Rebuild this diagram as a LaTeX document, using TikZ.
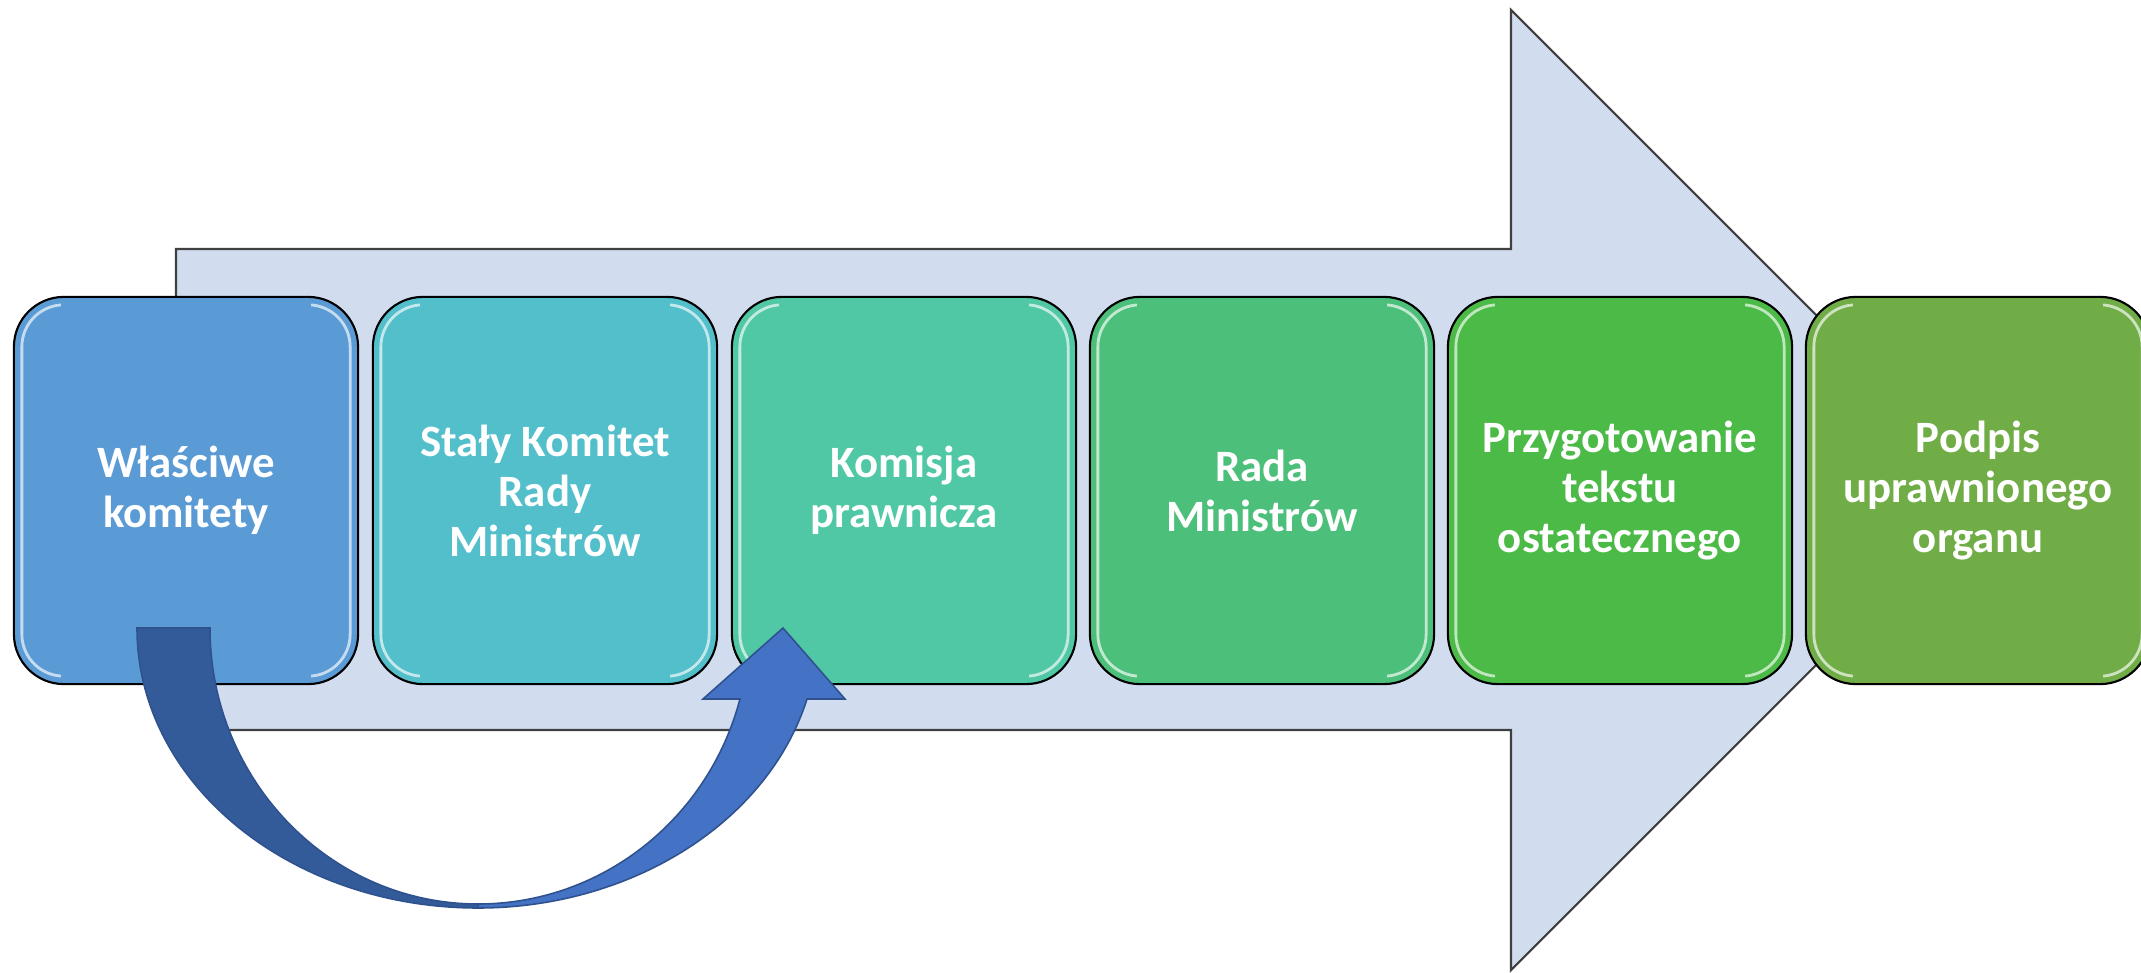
\documentclass[tikz,border=0pt]{standalone}
\usepackage{fontspec}
\setmainfont{Carlito}
\usetikzlibrary{calc}
\definecolor{c1}{HTML}{5B9BD5}
\definecolor{c2}{HTML}{52BFCB}
\definecolor{c3}{HTML}{50C8A5}
\definecolor{c4}{HTML}{4CC07A}
\definecolor{c5}{HTML}{4BBA46}
\definecolor{c6}{HTML}{70AD47}
\definecolor{bigfill}{HTML}{D1DDEF}
\definecolor{bigline}{HTML}{404040}
\definecolor{arrdark}{HTML}{335A99}
\definecolor{arrlight}{HTML}{4472C4}
\definecolor{arrline}{HTML}{2F528F}
\tikzset{
  stepbox/.style={draw=black, line width=0.6pt, rounded corners=0.5cm,
    minimum width=3.44cm, minimum height=3.87cm, inner sep=0pt,
    align=center, text=white,
    font=\fontsize{12.75pt}{14.2pt}\selectfont\bfseries},
  gloss/.style={draw=white, opacity=0.65, line width=0.8pt, rounded corners=0.42cm},
  bigarrow/.style={fill=bigfill, draw=bigline, line width=0.6pt},
  backpart/.style={fill=arrdark, draw=arrline, line width=0.45pt},
  frontpart/.style={fill=arrlight, draw=arrline, line width=0.45pt}
}
\begin{document}
\begin{tikzpicture}[x=0.01cm, y=-0.01cm]
\useasboundingbox (0,0) rectangle (2141,973);
% big background arrow
\draw[bigarrow] (176,249) -- (1511,249) -- (1511,10) -- (1991,490)
  -- (1511,970) -- (1511,730) -- (176,730) -- cycle;
% step boxes
\node[stepbox, fill=c1] (b1) at (186,490.5) {Właściwe\\komitety};
\node[stepbox, fill=c2] (b2) at (545,490.5) {Stały Komitet\\Rady\\Ministrów};
\node[stepbox, fill=c3] (b3) at (904,490.5) {Komisja\\prawnicza};
\node[stepbox, fill=c4] (b4) at (1262,490.5) {Rada\\Ministrów};
\node[stepbox, fill=c5] (b5) at (1620,490.5) {Przygotowanie\\tekstu\\ostatecznego};
\node[stepbox, fill=c6] (b6) at (1978,490.5) {Podpis\\uprawnionego\\organu};
% glossy side highlights
\foreach \n in {b1,b2,b3,b4,b5,b6}{
  \begin{scope}
    \clip ($(\n.north west)$) rectangle ($(\n.south west)+(48,0)$)
          ($(\n.north east)+(-48,0)$) rectangle ($(\n.south east)$);
    \draw[gloss] ($(\n.south west)+(9,-9)$) rectangle ($(\n.north east)+(-9,9)$);
  \end{scope}
}
% curved arrow from b1 to b3
\coordinate (cs) at (137,628);
\coordinate (ce) at (783,628);
\draw[backpart] (cs) .. controls (137,783) and (290,908) .. (478,908)
  -- (478,904) .. controls (330,904) and (210,780) .. (210,628) -- cycle;
\draw[frontpart] (478,908) .. controls (632,908) and (768,822) .. (807,699)
  -- (845,699) -- (ce) -- (703,699) -- (740,699)
  .. controls (708,820) and (601,904) .. (478,904) -- cycle;
\end{tikzpicture}
\end{document}
